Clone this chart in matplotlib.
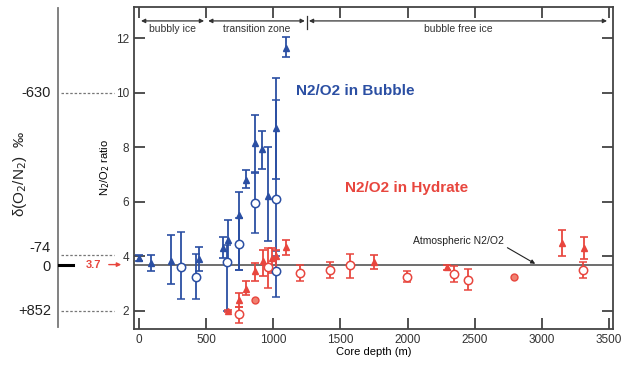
import numpy as np
import matplotlib.pyplot as plt

plt.rcParams['font.family'] = ['Liberation Sans', 'DejaVu Sans']

# bubble samples (blue)
bub_tri_depth = [0, 87, 238, 447, 623, 660, 747, 795, 864, 913, 958, 1020, 1092]
bub_tri_val = [3.95, 3.75, 3.85, 3.9, 4.3, 4.6, 5.5, 6.8, 8.15, 7.95, 6.2, 8.7, 11.65]
bub_tri_lo = [3.85, 3.45, 3.0, 3.45, 3.95, 3.85, 3.5, 6.5, 7.07, 7.2, 4.55, 6.85, 11.3]
bub_tri_hi = [4.05, 4.05, 4.8, 4.35, 4.7, 5.35, 6.35, 7.15, 9.2, 8.6, 8.0, 10.55, 12.05]

bub_cir_depth = [310, 422, 653, 747, 864, 1020, 1020]
bub_cir_val = [3.6, 3.25, 3.8, 4.45, 5.95, 6.1, 3.45]
bub_cir_lo = [2.45, 2.45, 2.0, 3.5, 4.85, 4.0, 2.5]
bub_cir_hi = [4.9, 4.1, 4.4, 5.4, 7.1, 9.75, 4.2]

# hydrate samples (red)
hyd_tri_depth = [660, 747, 795, 864, 926, 990, 1020, 1092, 1750, 2291, 3147, 3313]
hyd_tri_val = [2.0, 2.4, 2.8, 3.45, 3.85, 3.95, 4.0, 4.35, 3.8, 3.6, 4.5, 4.3]
hyd_tri_lo = [1.95, 2.15, 2.6, 3.1, 3.3, 3.4, 3.5, 4.05, 3.55, 3.5, 4.0, 3.9]
hyd_tri_hi = [2.05, 2.65, 3.1, 3.75, 4.25, 4.3, 4.25, 4.6, 4.05, 3.7, 4.95, 4.7]

hyd_cir_depth = [747, 963, 1199, 1422, 1571, 1998, 2346, 2452, 3303]
hyd_cir_val = [1.9, 3.6, 3.4, 3.5, 3.7, 3.25, 3.35, 3.15, 3.5]
hyd_cir_lo = [1.55, 2.85, 3.1, 3.2, 3.2, 3.05, 3.05, 2.77, 3.2]
hyd_cir_hi = [2.15, 4.3, 3.7, 3.8, 4.1, 3.45, 3.65, 3.55, 3.8]

hyd_dot_depth = [864, 2792]
hyd_dot_val = [2.4, 3.25]

atm_ratio = 3.7
zones = [('bubbly ice', 0, 500), ('transition zone', 500, 1250), ('bubble free ice', 1250, 3500)]
delta_labels = ['-630', '-74', '0', '+852']
delta_lines = [10, 4.05, None, 2]
delta_textpos = [10, 4.32, 3.62, 2]

blue = '#2b4fa3'
red = '#e8463e'

fig = plt.figure(figsize=(6.35, 3.67), dpi=100)
ax = fig.add_axes([134/635, 1-329/367, (613-134)/635, (329-7)/367])

def errs(val, lo, hi):
    v = np.array(val)
    return [v - np.array(lo), np.array(hi) - v]

ekw = dict(linestyle='none', capsize=3.2, elinewidth=1.3, capthick=1.2, zorder=3)
ax.errorbar(bub_tri_depth, bub_tri_val, yerr=errs(bub_tri_val, bub_tri_lo, bub_tri_hi),
            marker='^', ms=5, color=blue, **ekw)
ax.errorbar(bub_cir_depth, bub_cir_val, yerr=errs(bub_cir_val, bub_cir_lo, bub_cir_hi),
            marker='o', ms=6, mfc='white', mec=blue, mew=1.1, color=blue, **ekw)
ax.errorbar(hyd_tri_depth, hyd_tri_val, yerr=errs(hyd_tri_val, hyd_tri_lo, hyd_tri_hi),
            marker='^', ms=5, color=red, **ekw)
ax.errorbar(hyd_cir_depth, hyd_cir_val, yerr=errs(hyd_cir_val, hyd_cir_lo, hyd_cir_hi),
            marker='o', ms=6, mfc='white', mec=red, mew=1.1, color=red, **ekw)
ax.plot(hyd_dot_depth, hyd_dot_val, 'o', ms=5, color=red, mfc='#f08070', zorder=3)

ax.axhline(atm_ratio, color='#555555', lw=1.2, zorder=2)

ax.set_xlim(-37, 3529)
ax.set_ylim(1.34, 13.14)
ax.set_xticks(np.arange(0, 3501, 500))
ax.set_yticks([2, 4, 6, 8, 10, 12])
ax.tick_params(direction='in', length=8, width=1.2, labelsize=8.5, colors='#333333',
               top=True, right=True)
for s in ax.spines.values():
    s.set_linewidth(1.3)
    s.set_color('#444444')
ax.set_xlabel('Core depth (m)', fontsize=8, labelpad=1)
ax.set_ylabel('N$_2$/O$_2$ ratio', fontsize=8, labelpad=3)

# zone brackets at the top
for name, a, b in zones:
    ax.annotate('', xy=(a + 15, 12.63), xytext=(b - 15, 12.63),
                arrowprops=dict(arrowstyle='<|-|>', color='#333333', lw=0.9,
                                mutation_scale=6, shrinkA=0, shrinkB=0))
    ax.text((a + b) / 2, 12.32, name, ha='center', va='center', fontsize=7.5, color='#333333')
ax.plot([1250, 1250], [12.35, 12.8], color='#333333', lw=0.9)

ax.text(1169, 10.05, 'N2/O2 in Bubble', color=blue, fontsize=11, fontweight='bold', va='center')
ax.text(1534, 6.5, 'N2/O2 in Hydrate', color=red, fontsize=11, fontweight='bold', va='center')
ax.annotate('Atmospheric N2/O2', xy=(2950, atm_ratio + 0.03), xytext=(2375, 4.55),
            ha='center', va='center', fontsize=7.5, color='#222222',
            arrowprops=dict(arrowstyle='-|>', color='#222222', lw=0.8, mutation_scale=6,
                            shrinkA=1, shrinkB=0, relpos=(1.0, 0.1)))

# left delta scale
ax2 = fig.add_axes([0, 1-329/367, 134/635, (329-7)/367])
ax2.set_xlim(0, 134)
ax2.set_ylim(1.34, 13.14)
ax2.axis('off')
ax2.plot([58, 58], [1.4, 13.1], color='#777777', lw=1.3)
for lab, yl, yt in zip(delta_labels, delta_lines, delta_textpos):
    ax2.text(51, yt, lab, ha='right', va='center', fontsize=10.5, color='#222222')
    if yl is not None:
        ax2.plot([61, 114], [yl, yl], ls=(0, (2, 1.5)), color='#777777', lw=0.9)
ax2.plot([59, 73], [atm_ratio, atm_ratio], color='black', lw=2.2)
ax2.text(86, atm_ratio, '3.7', color=red, fontsize=8, va='center', ha='left', fontweight='bold')
ax2.annotate('', xy=(124, atm_ratio), xytext=(106, atm_ratio),
             arrowprops=dict(arrowstyle='-|>', color=red, lw=1.0, mutation_scale=6))
ax2.text(20, 7.0, 'δ(O$_2$/N$_2$)  ‰', rotation=90, ha='center', va='center',
         fontsize=11, color='#222222')

fig.savefig('out.png', dpi=100)
